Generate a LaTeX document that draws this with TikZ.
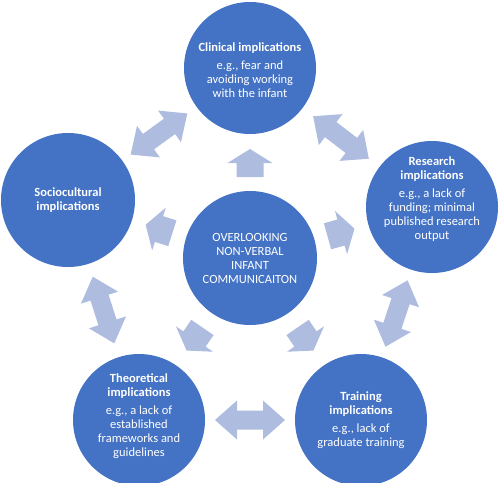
\documentclass[tikz,border=0pt]{standalone}
\usepackage{fontspec}
\setmainfont{Carlito}
\usetikzlibrary{calc}
\definecolor{circleBlue}{RGB}{68,114,196}
\definecolor{arrowBlue}{RGB}{174,188,224}
\tikzstyle{bubble} = [circle, fill=circleBlue, inner sep=0pt, minimum size=132pt]
\tikzstyle{bubbleText} = [text=white, align=center, inner sep=0pt, font=\fontsize{12.5}{14}\selectfont]
\tikzstyle{arrowStyle} = [fill=arrowBlue]
\newcommand{\arrowAngle}[2]{\pgfmathanglebetweenpoints{\pgfpointanchor{#1}{center}}{\pgfpointanchor{#2}{center}}\let\turn\pgfmathresult}
\newcommand{\outwardArrow}[3]{
  \coordinate (#1) at ($(#2)!0.5!(#3)$);
  \arrowAngle{#2}{#3}
  \fill [arrowStyle, shift={(#1)}, rotate=\turn] (-14,-13.5) -- (0,-13.5) -- (0,-22.5) -- (14,0) -- (0,22.5) -- (0,13.5) -- (-14,13.5) -- cycle;
}
\newcommand{\bothArrow}[3]{
  \coordinate (#1) at ($(#2)!0.5!(#3)$);
  \arrowAngle{#2}{#3}
  \fill [arrowStyle, shift={(#1)}, rotate=\turn] (-35,0) -- (-13,19.5) -- (-13,9.5) -- (13,9.5) -- (13,19.5) -- (35,0) -- (13,-19.5) -- (13,-9.5) -- (-13,-9.5) -- (-13,-19.5) -- cycle;
}
\newcommand{\heading}[1]{\textbf{#1}}
\begin{document}
\begin{tikzpicture}[x=1pt, y=-1pt]
  \useasboundingbox (0,0) rectangle (500,482);
  % circles
  \node [bubble, minimum size=134pt] (center) at (250,258) {};
  \node [bubble] (clinical) at (250,68) {};
  \node [bubble] (research) at (432,207) {};
  \node [bubble] (training) at (361,420) {};
  \node [bubble] (theoretical) at (139,420) {};
  \node [bubble, minimum size=134pt] (sociocultural) at (68,200) {};
  % texts
  \node [bubbleText] (centerText) at (center) {OVERLOOKING\\NON-VERBAL\\INFANT\\COMMUNICAITON};
  \node [bubbleText] (clinicalText) at ([yshift=-2pt]clinical) {\heading{Clinical implications}\\[4pt]e.g., fear and\\avoiding working\\with the infant};
  \node [bubbleText] (researchText) at ([yshift=8pt]research) {\heading{Research}\\\heading{implications}\\[4pt]e.g., a lack of\\funding; minimal\\published research\\output};
  \node [bubbleText] (trainingText) at (training) {\heading{Training}\\\heading{implications}\\[4pt]e.g., lack of\\graduate training};
  \node [bubbleText] (theoreticalText) at ([yshift=4pt]theoretical) {\heading{Theoretical}\\\heading{implications}\\[4pt]e.g., a lack of\\established\\frameworks and\\guidelines};
  \node [bubbleText] (socioculturalText) at (sociocultural) {\heading{Sociocultural}\\\heading{implications}};
  % arrows out of the centre
  \outwardArrow{toClinical}{center}{clinical}
  \outwardArrow{toResearch}{center}{research}
  \outwardArrow{toTraining}{center}{training}
  \outwardArrow{toTheoretical}{center}{theoretical}
  \outwardArrow{toSociocultural}{center}{sociocultural}
  % arrows round the ring
  \bothArrow{clinicalResearch}{clinical}{research}
  \bothArrow{researchTraining}{research}{training}
  \bothArrow{trainingTheoretical}{training}{theoretical}
  \bothArrow{theoreticalSociocultural}{theoretical}{sociocultural}
  \bothArrow{socioculturalClinical}{sociocultural}{clinical}
\end{tikzpicture}
\end{document}
